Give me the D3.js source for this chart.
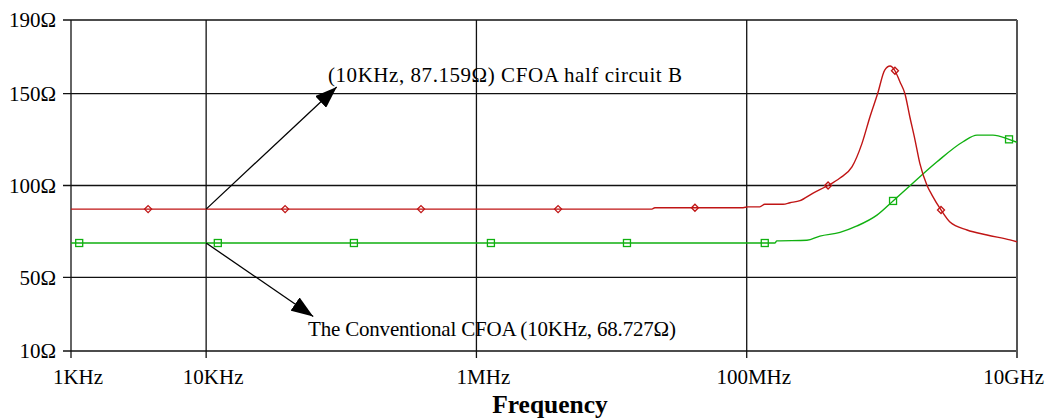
<!DOCTYPE html>
<html>
<head>
<meta charset="utf-8">
<script src="https://cdn.jsdelivr.net/npm/d3@7"></script>
<style>
  html, body { margin: 0; padding: 0; background: #fff; }
  svg { display: block; font-family: "Liberation Serif", "Times New Roman", serif; }
</style>
</head>
<body>
<svg id="chart" width="1049" height="419"></svg>
<script>
// Impedance vs frequency for two CFOA topologies
const xTicks = [1e3, 1e4, 1e6, 1e8, 1e10];
const xTickLabels = ["1KHz", "10KHz", "1MHz", "100MHz", "10GHz"];
const yTicks = [10, 50, 100, 150, 190];
const yTickLabels = ["10Ω", "50Ω", "100Ω", "150Ω", "190Ω"];

// CFOA half circuit B
const halfBFreq = [1e3, 1e4, 1.99e7, 2.09e7, 9.40e7, 1.02e8, 1.25e8, 1.36e8, 1.86e8, 2.09e8,
  2.48e8, 3.10e8, 4.00e8, 4.90e8, 6.01e8, 7.13e8, 8.17e8, 9.31e8, 1.05e9, 1.15e9,
  1.25e9, 1.36e9, 1.48e9, 1.61e9, 1.76e9, 1.91e9, 2.16e9, 2.35e9, 2.74e9, 3.19e9,
  4.27e9, 6.00e9, 8.87e9, 1e10];
const halfBOhm = [87.159, 87.159, 87.159, 87.9, 87.9, 88.4, 88.4, 89.8, 89.8, 90.6,
  91.8, 95.9, 100, 104.1, 110.1, 122.9, 137.4, 150, 162.8, 165,
  162.4, 156.4, 150, 137.4, 124.7, 112, 100, 94.8, 86.7, 80.1,
  75.8, 73.1, 70.4, 69.4];
const halfBMarkFreq = [3.72e3, 3.84e4, 3.89e5, 4.02e6, 4.14e7, 4.00e8, 1.25e9, 2.74e9];

// Conventional CFOA
const convFreq = [1e3, 1e4, 1.62e8, 1.67e8, 2.79e8, 3.48e8, 4.90e8, 6.55e8, 9.20e8, 1.21e9,
  1.70e9, 2.56e9, 3.99e9, 5.06e9, 6.64e9, 8.73e9, 1e10];
const convOhm = [68.727, 68.727, 68.727, 69.9, 70.2, 72.5, 74.5, 78, 83.9, 91.6,
  101.4, 112.9, 123.8, 127.4, 127.4, 125.1, 123.5];
const convMarkFreq = [1.15e3, 1.22e4, 1.24e5, 1.28e6, 1.30e7, 1.36e8, 1.21e9, 8.73e9];

const svg = d3.select("#chart");
const x = d3.scaleLog().domain([1e3, 1e10]).range([71, 1017]);
const y = d3.scaleLinear().domain([10, 190]).range([351, 20]);

const RED = "#c01515";
const GREEN = "#10b010";

// horizontal grid + y ticks
const gy = svg.append("g");
gy.selectAll("line.h").data(yTicks).join("line")
  .attr("x1", 63).attr("x2", x(1e10))
  .attr("y1", d => y(d)).attr("y2", d => y(d))
  .attr("stroke", "#111").attr("stroke-width", 1.3);
gy.selectAll("text").data(yTicks).join("text")
  .attr("x", 56).attr("y", d => y(d)).attr("dy", "0.35em")
  .attr("text-anchor", "end").attr("font-size", 21).attr("fill", "#000")
  .text((d, i) => yTickLabels[i]);

// vertical grid + x ticks
const gx = svg.append("g");
gx.selectAll("line.v").data(xTicks.slice(0, -1)).join("line")
  .attr("x1", d => x(d)).attr("x2", d => x(d))
  .attr("y1", y(190)).attr("y2", 358)
  .attr("stroke", "#111").attr("stroke-width", 1.3);
gx.append("line")
  .attr("x1", x(1e10)).attr("x2", x(1e10)).attr("y1", y(190)).attr("y2", 358)
  .attr("stroke", "#555").attr("stroke-width", 2);
gx.selectAll("text").data(xTicks).join("text")
  .attr("x", d => x(d) + 7).attr("y", 384)
  .attr("text-anchor", "middle").attr("font-size", 21).attr("fill", "#000")
  .text((d, i) => xTickLabels[i])
  .each(function () {
    const w = this.getComputedTextLength();
    const cx = +this.getAttribute("x");
    if (cx + w / 2 > 1044) this.setAttribute("x", 1044 - w / 2);
  });

svg.append("text")
  .attr("x", 550).attr("y", 413).attr("text-anchor", "middle")
  .attr("font-size", 25.5).attr("font-weight", "bold").text("Frequency");

// traces
const line = d3.line().x(d => x(d[0])).y(d => y(d[1])).curve(d3.curveMonotoneX);
const halfB = halfBFreq.map((f, i) => [f, halfBOhm[i]]);
const conv = convFreq.map((f, i) => [f, convOhm[i]]);

function valueAt(freqs, vals, f) {
  const lf = Math.log10(f);
  const i = Math.max(1, d3.bisectLeft(freqs, f));
  const a = Math.log10(freqs[i - 1]), b = Math.log10(freqs[i]);
  const t = (lf - a) / (b - a);
  return vals[i - 1] + t * (vals[i] - vals[i - 1]);
}

svg.append("path").datum(conv).attr("d", line)
  .attr("fill", "none").attr("stroke", GREEN).attr("stroke-width", 1.4);
svg.append("path").datum(halfB).attr("d", line)
  .attr("fill", "none").attr("stroke", RED).attr("stroke-width", 1.4);

// markers
svg.append("g").selectAll("path").data(halfBMarkFreq).join("path")
  .attr("transform", f => `translate(${x(f)},${y(valueAt(halfBFreq, halfBOhm, f))})`)
  .attr("d", "M0,-3.5L3.5,0L0,3.5L-3.5,0Z")
  .attr("fill", "none").attr("stroke", RED).attr("stroke-width", 1.3);
svg.append("g").selectAll("rect").data(convMarkFreq).join("rect")
  .attr("x", f => x(f) - 3.5).attr("y", f => y(valueAt(convFreq, convOhm, f)) - 3.5)
  .attr("width", 7).attr("height", 7)
  .attr("fill", "none").attr("stroke", GREEN).attr("stroke-width", 1.3);

// annotation arrows
svg.append("defs").append("marker")
  .attr("id", "head").attr("markerUnits", "userSpaceOnUse")
  .attr("viewBox", "0 0 22 16").attr("refX", 22).attr("refY", 8)
  .attr("markerWidth", 22).attr("markerHeight", 16).attr("orient", "auto")
  .append("path").attr("d", "M0,0L22,8L0,16Z").attr("fill", "#000");

const notes = [
  { f: 1e4, v: 87.159, tipF: 9.25e4, tipV: 153.6, tx: 328, ty: 82, len: 354,
    text: "(10KHz, 87.159Ω) CFOA half circuit B" },
  { f: 1e4, v: 68.727, tipF: 6.2e4, tipV: 28.8, tx: 308, ty: 336, len: 368,
    text: "The Conventional CFOA (10KHz, 68.727Ω)" }
];
const gn = svg.append("g");
notes.forEach(n => {
  gn.append("line")
    .attr("x1", x(n.f)).attr("y1", y(n.v))
    .attr("x2", x(n.tipF)).attr("y2", y(n.tipV))
    .attr("stroke", "#000").attr("stroke-width", 1.3)
    .attr("marker-end", "url(#head)");
  gn.append("text").attr("x", n.tx).attr("y", n.ty)
    .attr("font-size", 21).attr("fill", "#000")
    .attr("textLength", n.len).attr("lengthAdjust", "spacing")
    .text(n.text);
});
</script>
</body>
</html>
